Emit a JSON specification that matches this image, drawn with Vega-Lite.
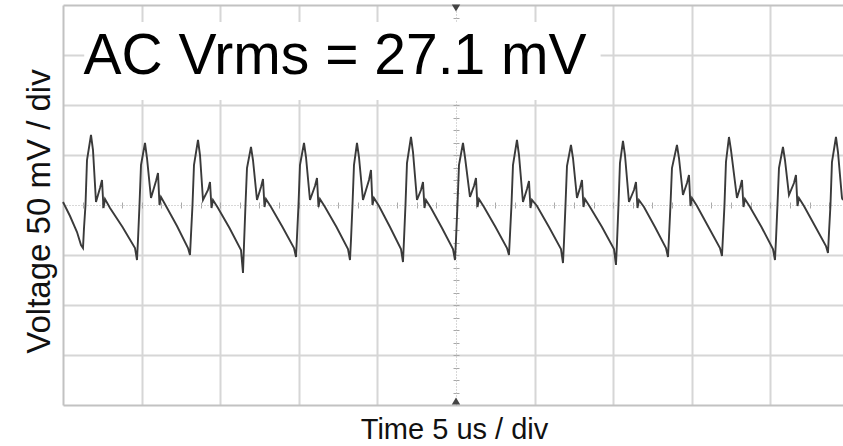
{
  "$schema": "https://vega.github.io/schema/vega-lite/v6.json",
  "width": 780,
  "height": 400,
  "autosize": {"type": "none"},
  "padding": {"left": 63, "top": 5, "right": 0, "bottom": 41},
  "background": "white",
  "config": {"view": {"stroke": null}},
  "datasets": {
    "trace": [
      {"t":0,"v":3},{"t":0.445,"v":-11},{"t":0.891,"v":-27},{"t":1.145,"v":-40},
      {"t":1.272,"v":-43},{"t":1.336,"v":-23},{"t":1.431,"v":0},{"t":1.527,"v":45},{"t":1.781,"v":70},{"t":1.908,"v":55},{"t":2.099,"v":3},{"t":2.354,"v":17},{"t":2.481,"v":25},{"t":2.576,"v":-3},{"t":2.672,"v":6},{"t":2.99,"v":-3},{"t":3.785,"v":-22},{"t":4.58,"v":-43},
      {"t":4.707,"v":-55},{"t":4.771,"v":-35},{"t":4.866,"v":0},{"t":4.962,"v":40},{"t":5.216,"v":62},{"t":5.343,"v":47},{"t":5.598,"v":7},{"t":5.916,"v":24},{"t":6.043,"v":32},{"t":6.139,"v":0},{"t":6.234,"v":8},{"t":6.552,"v":-1},{"t":7.252,"v":-21},{"t":7.952,"v":-43},
      {"t":8.079,"v":-50},{"t":8.142,"v":-30},{"t":8.238,"v":0},{"t":8.333,"v":40},{"t":8.588,"v":65},{"t":8.715,"v":50},{"t":8.906,"v":5},{"t":9.224,"v":15},{"t":9.351,"v":23},{"t":9.447,"v":-3},{"t":9.542,"v":5},{"t":9.86,"v":-3},{"t":10.592,"v":-23},{"t":11.323,"v":-45},
      {"t":11.45,"v":-68},{"t":11.514,"v":-40},{"t":11.609,"v":0},{"t":11.705,"v":37},{"t":11.959,"v":58},{"t":12.086,"v":45},{"t":12.341,"v":5},{"t":12.596,"v":18},{"t":12.723,"v":26},{"t":12.818,"v":-2},{"t":12.913,"v":6},{"t":13.232,"v":-2},{"t":13.963,"v":-22},{"t":14.695,"v":-43},
      {"t":14.822,"v":-52},{"t":14.885,"v":-32},{"t":14.981,"v":0},{"t":15.076,"v":40},{"t":15.331,"v":62},{"t":15.458,"v":48},{"t":15.712,"v":5},{"t":16.03,"v":19},{"t":16.158,"v":27},{"t":16.253,"v":-2},{"t":16.349,"v":6},{"t":16.667,"v":-2},{"t":17.398,"v":-22},{"t":18.13,"v":-44},
      {"t":18.257,"v":-55},{"t":18.321,"v":-35},{"t":18.416,"v":0},{"t":18.511,"v":40},{"t":18.702,"v":62},{"t":18.829,"v":48},{"t":19.084,"v":5},{"t":19.466,"v":25},{"t":19.593,"v":35},{"t":19.688,"v":0},{"t":19.784,"v":7},{"t":20.102,"v":-1},{"t":20.801,"v":-22},{"t":21.501,"v":-44},
      {"t":21.628,"v":-57},{"t":21.692,"v":-35},{"t":21.787,"v":0},{"t":21.883,"v":42},{"t":22.137,"v":68},{"t":22.265,"v":53},{"t":22.519,"v":5},{"t":22.773,"v":15},{"t":22.901,"v":23},{"t":22.996,"v":-3},{"t":23.092,"v":5},{"t":23.41,"v":-3},{"t":24.109,"v":-23},{"t":24.809,"v":-44},
      {"t":24.936,"v":-55},{"t":25.0,"v":-35},{"t":25.095,"v":0},{"t":25.191,"v":40},{"t":25.445,"v":62},{"t":25.572,"v":48},{"t":25.89,"v":8},{"t":26.145,"v":19},{"t":26.272,"v":27},{"t":26.368,"v":-2},{"t":26.463,"v":6},{"t":26.781,"v":-2},{"t":27.513,"v":-22},{"t":28.244,"v":-43},
      {"t":28.371,"v":-50},{"t":28.435,"v":-30},{"t":28.53,"v":0},{"t":28.626,"v":40},{"t":28.88,"v":65},{"t":29.008,"v":50},{"t":29.262,"v":3},{"t":29.516,"v":16},{"t":29.644,"v":24},{"t":29.739,"v":-3},{"t":29.835,"v":5},{"t":30.153,"v":-1},{"t":30.916,"v":-22},{"t":31.679,"v":-44},
      {"t":31.807,"v":-58},{"t":31.87,"v":-37},{"t":31.966,"v":0},{"t":32.061,"v":39},{"t":32.315,"v":60},{"t":32.443,"v":47},{"t":32.697,"v":7},{"t":32.888,"v":17},{"t":33.015,"v":25},{"t":33.111,"v":-2},{"t":33.206,"v":6},{"t":33.524,"v":-2},{"t":34.287,"v":-22},{"t":35.051,"v":-44},
      {"t":35.178,"v":-60},{"t":35.242,"v":-38},{"t":35.337,"v":0},{"t":35.432,"v":42},{"t":35.623,"v":64},{"t":35.75,"v":50},{"t":36.005,"v":3},{"t":36.323,"v":15},{"t":36.45,"v":23},{"t":36.546,"v":-3},{"t":36.641,"v":5},{"t":36.959,"v":-2},{"t":37.659,"v":-22},{"t":38.359,"v":-43},
      {"t":38.486,"v":-52},{"t":38.55,"v":-32},{"t":38.645,"v":0},{"t":38.74,"v":37},{"t":39.058,"v":60},{"t":39.186,"v":47},{"t":39.44,"v":10},{"t":39.695,"v":22},{"t":39.822,"v":30},{"t":39.917,"v":-1},{"t":40.013,"v":7},{"t":40.331,"v":-1},{"t":41.062,"v":-22},{"t":41.794,"v":-43},
      {"t":41.921,"v":-51},{"t":41.985,"v":-31},{"t":42.08,"v":0},{"t":42.175,"v":43},{"t":42.366,"v":68},{"t":42.493,"v":55},{"t":42.875,"v":7},{"t":43.066,"v":17},{"t":43.193,"v":25},{"t":43.289,"v":-2},{"t":43.384,"v":6},{"t":43.702,"v":-2},{"t":44.434,"v":-22},{"t":45.165,"v":-44},
      {"t":45.292,"v":-55},{"t":45.356,"v":-35},{"t":45.451,"v":0},{"t":45.547,"v":37},{"t":45.801,"v":58},{"t":45.928,"v":45},{"t":46.183,"v":10},{"t":46.501,"v":22},{"t":46.628,"v":30},{"t":46.724,"v":-1},{"t":46.819,"v":7},{"t":47.137,"v":-1},{"t":47.837,"v":-21},{"t":48.537,"v":-41},
      {"t":48.664,"v":-48},{"t":48.728,"v":-28},{"t":48.823,"v":0},{"t":48.918,"v":43},{"t":49.173,"v":68},{"t":49.3,"v":53},{"t":49.555,"v":7},{"t":49.618,"v":5}
    ],
    "note": [{"label": "AC Vrms = 27.1 mV"}],
    "one": [{}]
  },
  "resolve": {"axis": {"x": "independent", "y": "independent"}},
  "layer": [
    {
      "data": {"name": "trace"},
      "mark": {"type": "line", "color": "#3a3a3a", "strokeWidth": 1.9, "interpolate": "linear"},
      "encoding": {
        "x": {
          "field": "t", "type": "quantitative",
          "scale": {"domain": [0, 49.62], "nice": false, "zero": false},
          "axis": {
            "orient": "bottom", "title": "Time 5 us / div",
            "values": [5, 10, 15, 20, 30, 35, 40, 45],
            "grid": true, "gridColor": "#d6d6d6", "gridWidth": 2,
            "labels": false, "ticks": false,
            "domain": true, "domainColor": "#c2c2c2", "domainWidth": 2,
            "titleFont": "Liberation Sans", "titleFontSize": 29, "titleFontWeight": "normal", "titleColor": "#111111",
            "titleX": 391, "titleY": 33, "titleAlign": "center", "titleBaseline": "alphabetic"
          }
        },
        "y": {
          "field": "v", "type": "quantitative",
          "scale": {"domain": [-200, 200], "nice": false, "zero": false},
          "axis": {
            "orient": "left", "title": "Voltage 50 mV / div",
            "values": [-150, -100, -50, 50, 100, 150],
            "grid": true, "gridColor": "#d6d6d6", "gridWidth": 2,
            "labels": false, "ticks": false,
            "domain": true, "domainColor": "#c2c2c2", "domainWidth": 2,
            "titleFont": "Liberation Sans", "titleFontSize": 33, "titleFontWeight": "normal", "titleColor": "#111111",
            "titleX": -14, "titleY": 206, "titleAngle": 270, "titleAlign": "center", "titleBaseline": "alphabetic"
          }
        }
      }
    },
    {
      "data": {"name": "one"},
      "mark": {"type": "rect", "color": "white"},
      "encoding": {
        "x": {"datum": 1.35, "type": "quantitative",
          "axis": {"orient": "top", "offset": 0, "title": null, "labels": false, "ticks": false, "grid": false,
                   "domain": true, "domainColor": "#c2c2c2", "domainWidth": 2}},
        "x2": {"datum": 34.2},
        "y": {"datum": 183, "type": "quantitative", "axis": null},
        "y2": {"datum": 105}
      }
    },
    {
      "data": {"name": "note"},
      "mark": {"type": "text", "align": "left", "baseline": "alphabetic", "font": "Liberation Sans", "fontSize": 57, "color": "#000000"},
      "encoding": {
        "x": {"datum": 1.3, "type": "quantitative",
          "axis": {"orient": "top", "offset": -200, "title": null, "labels": false, "grid": false,
                   "values": [1.25,2.5,3.75,5,6.25,7.5,8.75,10,11.25,12.5,13.75,15,16.25,17.5,18.75,20,21.25,22.5,23.75,25,26.25,27.5,28.75,30,31.25,32.5,33.75,35,36.25,37.5,38.75,40,41.25,42.5,43.75,45,46.25,47.5,48.75],
                   "ticks": true, "tickSize": 3, "tickColor": "#a8a8a8", "tickWidth": 1,
                   "domain": true, "domainColor": "#b0b0b0", "domainWidth": 1, "domainDash": [1, 2]}},
        "y": {"datum": 131, "type": "quantitative", "axis": null},
        "text": {"field": "label"}
      }
    },
    {
      "data": {"name": "one"},
      "mark": {"type": "point", "shape": "triangle-down", "filled": true, "color": "#444444", "size": 70, "opacity": 1},
      "encoding": {
        "x": {"datum": 25, "type": "quantitative",
          "axis": {"orient": "bottom", "offset": -200, "title": null, "labels": false, "grid": false,
                   "values": [1.25,2.5,3.75,5,6.25,7.5,8.75,10,11.25,12.5,13.75,15,16.25,17.5,18.75,20,21.25,22.5,23.75,25,26.25,27.5,28.75,30,31.25,32.5,33.75,35,36.25,37.5,38.75,40,41.25,42.5,43.75,45,46.25,47.5,48.75],
                   "ticks": true, "tickSize": 3, "tickColor": "#a8a8a8", "tickWidth": 1,
                   "domain": false}},
        "y": {"datum": 197, "type": "quantitative",
          "axis": {"orient": "left", "offset": -393, "title": null, "labels": false, "grid": false,
                   "values": [-187.5,-175,-162.5,-150,-137.5,-125,-112.5,-100,-87.5,-75,-62.5,-50,-37.5,-25,-12.5,0,12.5,25,37.5,50,62.5,75,87.5,100,112.5,125,137.5,150,162.5,175,187.5],
                   "ticks": true, "tickSize": 3, "tickColor": "#a8a8a8", "tickWidth": 1,
                   "domain": true, "domainColor": "#b0b0b0", "domainWidth": 1, "domainDash": [1, 2]}}
      }
    },
    {
      "data": {"name": "one"},
      "mark": {"type": "point", "shape": "triangle-up", "filled": true, "color": "#444444", "size": 70, "opacity": 1},
      "encoding": {
        "x": {"datum": 25, "type": "quantitative", "axis": null},
        "y": {"datum": -196, "type": "quantitative",
          "axis": {"orient": "right", "offset": -387, "title": null, "labels": false, "grid": false,
                   "values": [-187.5,-175,-162.5,-150,-137.5,-125,-112.5,-100,-87.5,-75,-62.5,-50,-37.5,-25,-12.5,0,12.5,25,37.5,50,62.5,75,87.5,100,112.5,125,137.5,150,162.5,175,187.5],
                   "ticks": true, "tickSize": 3, "tickColor": "#a8a8a8", "tickWidth": 1,
                   "domain": false}}
      }
    }
  ]
}
